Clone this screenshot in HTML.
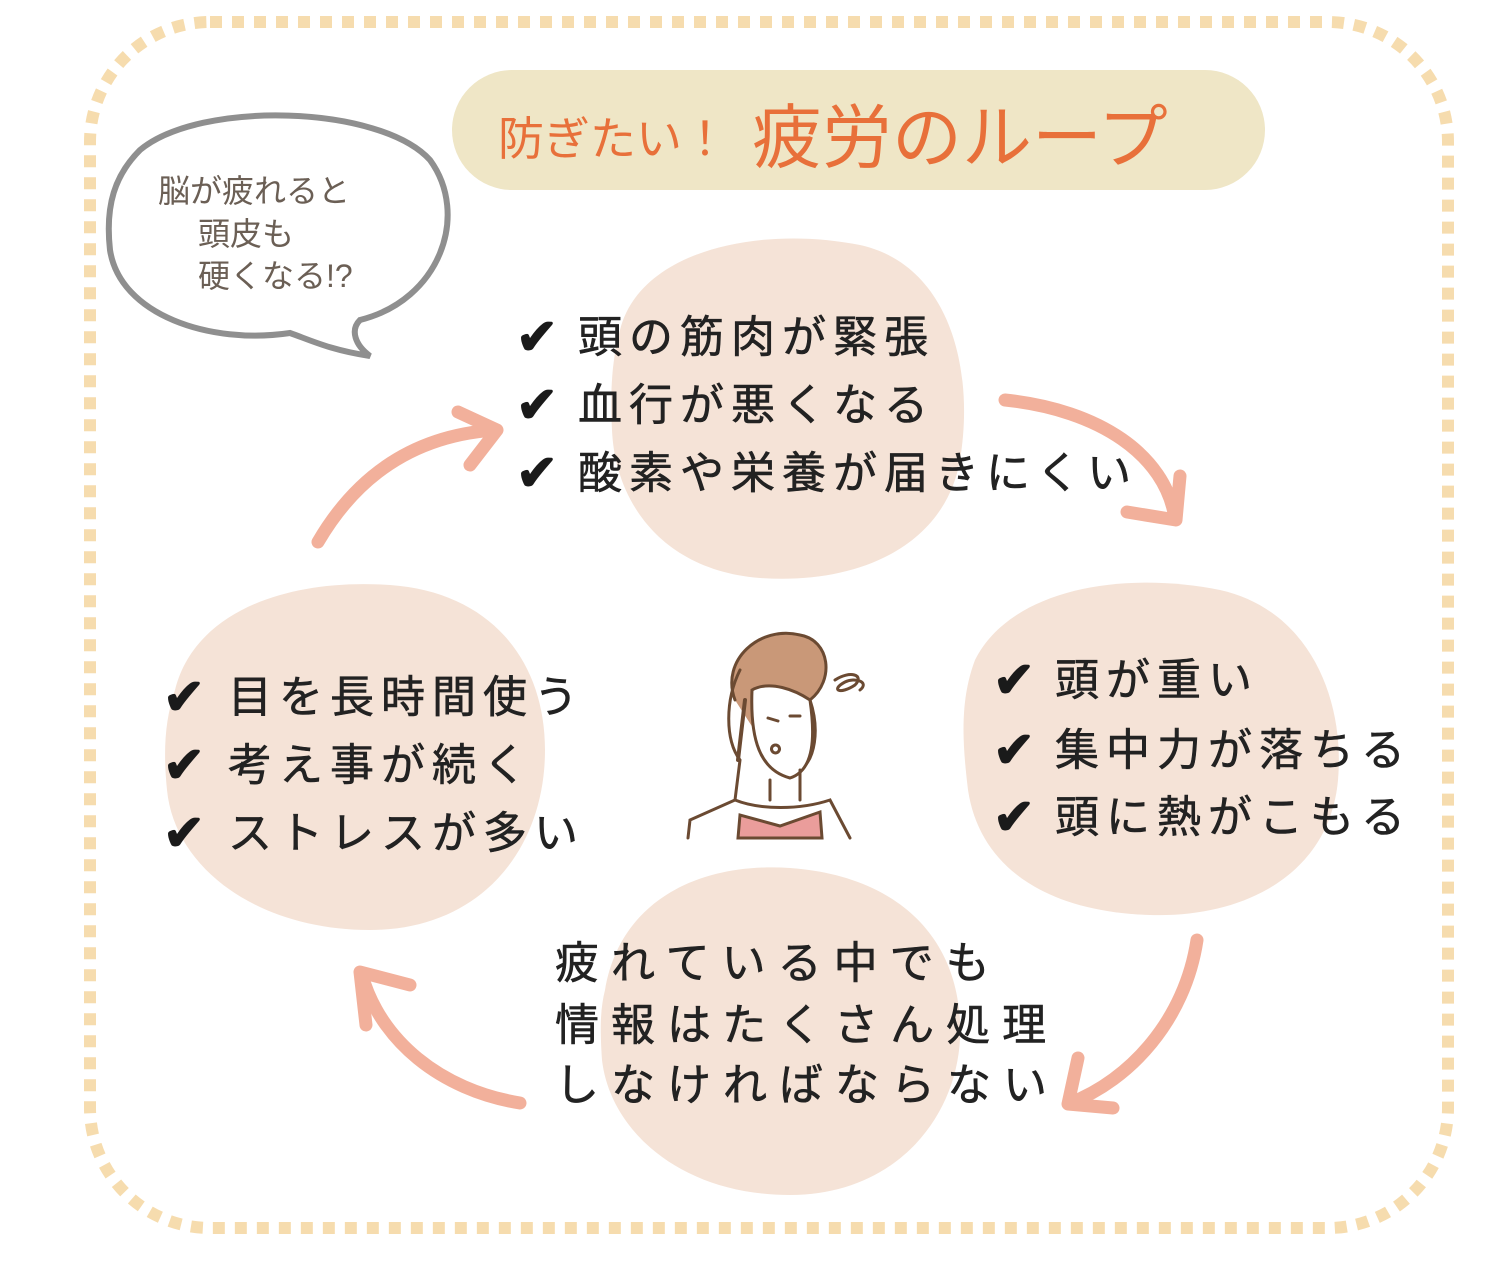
<!DOCTYPE html>
<html><head><meta charset="utf-8"><style>
body{margin:0;background:#fff}
svg text{font-family:"Liberation Sans","Noto Sans CJK JP",sans-serif}
.ck{font-size:50px;font-weight:bold}
</style></head><body>
<svg width="1510" height="1280" viewBox="0 0 1510 1280" xmlns="http://www.w3.org/2000/svg">
<rect x="90" y="22" width="1358" height="1206" rx="120" fill="none" stroke="#f6dcae" stroke-width="12" stroke-dasharray="12 10"/>
<rect x="452" y="70" width="813" height="120" rx="60" fill="#efe6c6"/>
<text x="498" y="155" font-size="46" fill="#e8703a">防ぎたい！</text>
<text x="752" y="162" font-size="70" fill="#e8703a">疲労のループ</text>

<path d="M140,150 C200,100 380,105 430,160 C470,215 440,300 360,320 C350,330 355,345 370,356 C330,350 310,340 290,333 C210,345 120,315 110,250 C105,205 115,175 140,150 Z" fill="#fff" stroke="#8f8f8f" stroke-width="6"/>
<g font-size="32" fill="#6b5f55">
<text x="158" y="202">脳が疲れると</text>
<text x="198" y="245">頭皮も</text>
<text x="198" y="287">硬くなる!?</text>
</g>

<g fill="#f5e3d7">
<path d="M620,330 C640,250 760,225 860,245 C950,265 975,370 960,460 C945,545 860,585 760,578 C660,570 615,500 612,430 C610,390 612,360 620,330 Z"/>
<path d="M975,660 C1010,590 1120,570 1220,590 C1310,610 1345,700 1338,780 C1330,870 1250,918 1150,915 C1050,912 980,870 968,790 C962,740 960,700 975,660 Z"/>
<path d="M175,690 C195,610 290,578 390,585 C490,592 545,660 545,750 C545,850 480,930 370,930 C260,930 175,870 167,790 C163,750 165,720 175,690 Z"/>
<path d="M605,990 C620,900 700,862 790,868 C890,875 955,930 960,1020 C965,1110 900,1195 790,1195 C680,1195 610,1130 602,1060 C600,1030 600,1010 605,990 Z"/>
</g>

<g fill="none" stroke="#f2b09b" stroke-width="13" stroke-linecap="round" stroke-linejoin="round">
<path d="M318,542 C360,470 420,435 495,430"/><path d="M458,412 L497,430 L470,465"/>
<path d="M1005,400 C1100,410 1165,455 1175,518"/><path d="M1127,512 L1176,520 L1180,476"/>
<path d="M1197,940 C1185,1020 1130,1080 1070,1103"/><path d="M1113,1108 L1068,1104 L1078,1058"/>
<path d="M520,1103 C440,1090 380,1040 362,975"/><path d="M410,985 L360,972 L366,1025"/>
</g>

<g fill="#1a1a1a">
<text class="ck" x="516" y="354">✔</text><text class="ck" x="516" y="422">✔</text><text class="ck" x="516" y="490">✔</text>
<text class="ck" x="993" y="697">✔</text><text class="ck" x="993" y="767">✔</text><text class="ck" x="993" y="834">✔</text>
<text class="ck" x="163" y="714">✔</text><text class="ck" x="163" y="782">✔</text><text class="ck" x="163" y="850">✔</text>
</g>
<g font-size="44" fill="#222" letter-spacing="7" stroke="#222" stroke-width="0.6">
<text x="578" y="352">頭の筋肉が緊張</text>
<text x="578" y="420">血行が悪くなる</text>
<text x="578" y="488">酸素や栄養が届きにくい</text>
<text x="1055" y="695">頭が重い</text>
<text x="1055" y="765">集中力が落ちる</text>
<text x="1055" y="832">頭に熱がこもる</text>
<text x="228" y="712">目を長時間使う</text>
<text x="228" y="780">考え事が続く</text>
<text x="228" y="848">ストレスが多い</text>
</g>
<g font-size="44" fill="#222" letter-spacing="12" stroke="#222" stroke-width="0.6">
<text x="555" y="978">疲れている中でも</text>
<text x="555" y="1040">情報はたくさん処理</text>
<text x="555" y="1100">しなければならない</text>
</g>

<g stroke="#6b4a32" stroke-width="3" fill="none" stroke-linecap="round">
<path d="M735,700 C720,660 760,625 800,635 C830,640 835,680 810,700 C820,730 815,760 800,770 L780,770" fill="#c99878"/>
<path d="M752,690 C750,740 760,770 790,778 C815,770 815,735 810,700 C795,690 770,680 752,690 Z" fill="#fff"/>
<path d="M740,670 C725,700 725,740 740,760 L735,800 L690,820 L688,838"/>
<path d="M745,700 L738,760" stroke-width="4"/>
<path d="M770,780 L770,800 M800,770 L800,800"/>
<path d="M735,800 C760,810 800,810 830,800 L850,838"/>
<path d="M738,838 L740,815 L780,826 L820,812 L822,838 Z" fill="#ea9d9b"/>
<path d="M768,718 l10,3 M790,716 l10,0 M775,745 a4,4 0 1,0 1,0"/>
<path d="M835,680 c15,-10 30,-5 20,5 c-15,10 -25,5 -10,-3 c10,-5 25,0 15,8"/>
</g>
</svg>
</body></html>
